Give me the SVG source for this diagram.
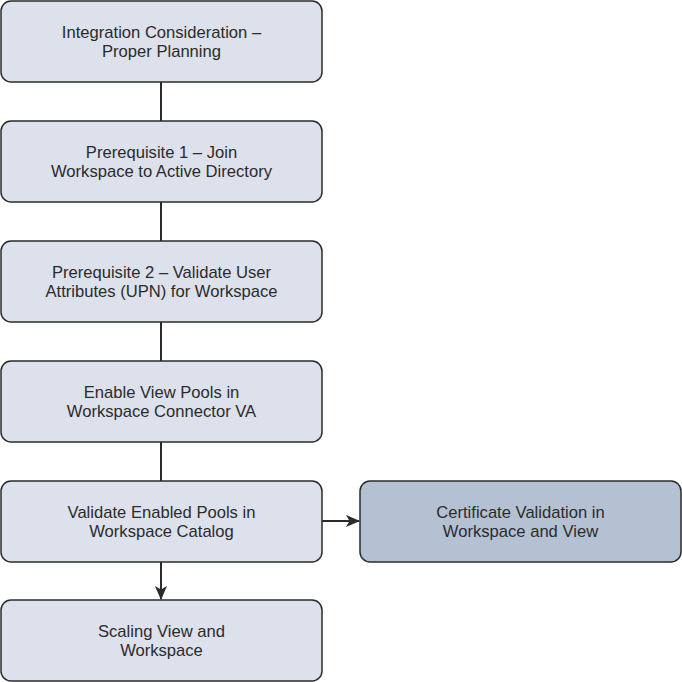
<svg xmlns="http://www.w3.org/2000/svg" width="682" height="682" viewBox="0 0 682 682">
<style>
.box{fill:#dde1eb;stroke:#2b2b2b;stroke-width:1.5}
.alt{fill:#b4c1d3}
.t{font-family:"Liberation Sans",Arial,sans-serif;font-size:16.6px;fill:#2b2b2b;text-anchor:middle}
.c{stroke:#2b2b2b;stroke-width:2;fill:none}
</style>
<defs>
<marker id="ah" markerWidth="14" markerHeight="12" refX="13" refY="6" orient="auto" markerUnits="userSpaceOnUse">
<path d="M0,0 L14,6 L0,12 L3.5,6 Z" fill="#2b2b2b"/>
</marker>
</defs>
<g id="connectors">
<line class="c" x1="161" y1="82" x2="161" y2="121"/>
<line class="c" x1="161" y1="202" x2="161" y2="241"/>
<line class="c" x1="161" y1="322" x2="161" y2="361"/>
<line class="c" x1="161" y1="442" x2="161" y2="481"/>
<line class="c" x1="161" y1="562" x2="161" y2="599" marker-end="url(#ah)"/>
<line class="c" x1="322" y1="521" x2="359" y2="521" marker-end="url(#ah)"/>
</g>
<g id="n1"><rect class="box" x="1" y="1" width="321" height="81" rx="10"/>
<text class="t" x="161.5" y="38">Integration Consideration –</text><text class="t" x="161.5" y="57">Proper Planning</text></g>
<g id="n2"><rect class="box" x="1" y="121" width="321" height="81" rx="10"/>
<text class="t" x="161.5" y="158">Prerequisite 1 – Join</text><text class="t" x="161.5" y="177">Workspace to Active Directory</text></g>
<g id="n3"><rect class="box" x="1" y="241" width="321" height="81" rx="10"/>
<text class="t" x="161.5" y="278">Prerequisite 2 – Validate User</text><text class="t" x="161.5" y="297">Attributes (UPN) for Workspace</text></g>
<g id="n4"><rect class="box" x="1" y="361" width="321" height="81" rx="10"/>
<text class="t" x="161.5" y="398">Enable View Pools in</text><text class="t" x="161.5" y="417">Workspace Connector VA</text></g>
<g id="n5"><rect class="box" x="1" y="481" width="321" height="81" rx="10"/>
<text class="t" x="161.5" y="518">Validate Enabled Pools in</text><text class="t" x="161.5" y="537">Workspace Catalog</text></g>
<g id="n6"><rect class="box" x="1" y="600" width="321" height="81" rx="10"/>
<text class="t" x="161.5" y="637">Scaling View and</text><text class="t" x="161.5" y="656">Workspace</text></g>
<g id="n7"><rect class="box alt" x="360" y="481" width="321" height="81" rx="10"/>
<text class="t" x="520.5" y="518">Certificate Validation in</text><text class="t" x="520.5" y="537">Workspace and View</text></g>
</svg>
